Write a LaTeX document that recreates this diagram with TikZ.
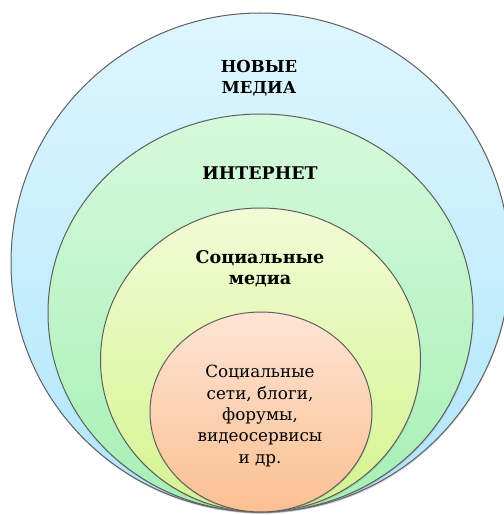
\documentclass[tikz,border=0pt]{standalone}
\usepackage{fontspec}
\setmainfont{DejaVu Serif}
\newfontfamily\tnr{DejaVu Serif}
\usetikzlibrary{shapes.geometric,shadows}
\definecolor{b1}{RGB}{222,246,254}
\definecolor{b2}{RGB}{176,230,251}
\definecolor{g1}{RGB}{214,249,220}
\definecolor{g2}{RGB}{166,240,180}
\definecolor{y1}{RGB}{242,251,214}
\definecolor{y2}{RGB}{212,244,142}
\definecolor{o1}{RGB}{253,228,212}
\definecolor{o2}{RGB}{251,192,146}
\definecolor{rim}{RGB}{95,95,95}
\tikzset{
  ring/.style={ellipse, draw=rim, line width=1pt, inner sep=0pt,
    drop shadow={opacity=0.3, shadow xshift=0.5pt, shadow yshift=-1.5pt}},
  hd/.style={font=\tnr\fontsize{17.5}{21}\selectfont\bfseries, align=center, inner sep=0pt},
  bd/.style={font=\tnr\fontsize{16.8}{21.3}\selectfont, align=center, inner sep=0pt}
}
\begin{document}
\begin{tikzpicture}[x=1pt,y=1pt]
\useasboundingbox (0,0) rectangle (504,515);
\clip (0,0) rectangle (504,515);
\node[ring, top color=b1, bottom color=b2, minimum width=499pt, minimum height=499pt] (c1) at (260.5,252.5) {};
\node[ring, top color=g1, bottom color=g2, minimum width=425pt, minimum height=398pt] (c2) at (260.5,202) {};
\node[ring, top color=y1, bottom color=y2, minimum width=320pt, minimum height=304pt] (c3) at (260.5,155) {};
\node[ring, top color=o1, bottom color=o2, minimum width=222pt, minimum height=200pt] (c4) at (261,103) {};
\node[hd, font=\tnr\fontsize{16.5}{21}\selectfont\bfseries] (t1) at (259,437) {НОВЫЕ\\МЕДИА};
\node[hd, anchor=base] (t2) at (260,335) {ИНТЕРНЕТ};
\node[hd] (t3) at (260,246) {Социальные\\медиа};
\node[bd] (t4) at (260,99) {Социальные\\сети, блоги,\\форумы,\\видеосервисы\\и др.};
\end{tikzpicture}
\end{document}
